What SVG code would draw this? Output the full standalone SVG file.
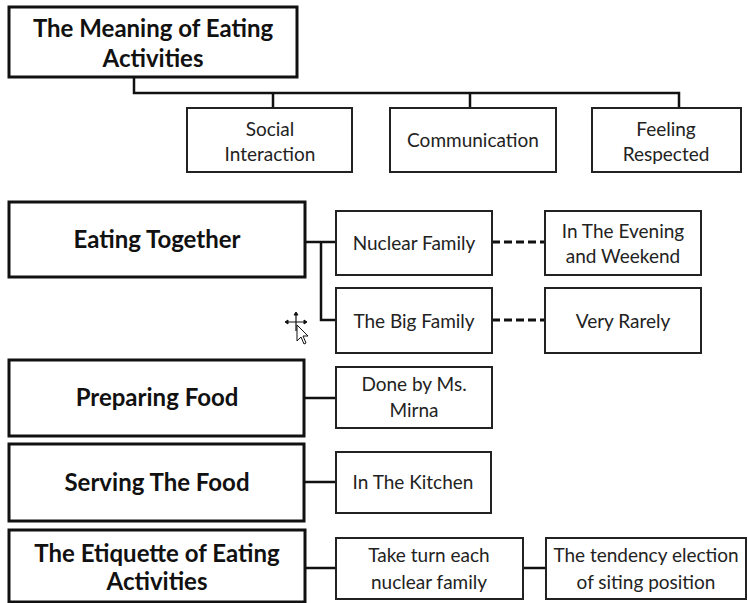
<svg xmlns="http://www.w3.org/2000/svg" width="748" height="603" viewBox="0 0 748 603">
<style>
.hb{fill:#fff;stroke:#111;stroke-width:3}
.sb{fill:#fff;stroke:#222;stroke-width:2}
.ht{font-family:Lato,"Open Sans","Liberation Sans",sans-serif;font-weight:bold;font-size:24px;fill:#111;text-anchor:middle}
.st{font-family:Lato,"Open Sans","Liberation Sans",sans-serif;font-size:19px;fill:#222;text-anchor:middle}
.c{fill:none;stroke:#111;stroke-width:2.5}
.d{fill:none;stroke:#111;stroke-width:3;stroke-dasharray:8 4}
</style>
<rect width="748" height="603" fill="#fff"/>
<g id="connectors">
<path class="c" d="M134 77V93H679V108M273 93V108M470 93V108"/>
<path class="c" d="M305 242H336M321 242V320H336"/>
<path class="d" d="M492 242H545M492 320H545"/>
<path class="c" d="M304 398H336M304 482H336M305 568H336M523 568H546"/>
</g>
<g id="meaning"><rect class="hb" x="9" y="7" width="288" height="70"/><text class="ht" x="153" y="37">The Meaning of Eating</text><text class="ht" x="153" y="67">Activities</text></g>
<g id="social"><rect class="sb" x="187" y="108" width="165" height="64"/><text class="st" x="270" y="136">Social</text><text class="st" x="270" y="161">Interaction</text></g>
<g id="communication"><rect class="sb" x="390" y="108" width="166" height="64"/><text class="st" x="473" y="147">Communication</text></g>
<g id="feeling"><rect class="sb" x="592" y="108" width="149" height="64"/><text class="st" x="666" y="136">Feeling</text><text class="st" x="666" y="161">Respected</text></g>
<g id="eating"><rect class="hb" x="9" y="202" width="296" height="75"/><text class="ht" x="157" y="248">Eating Together</text></g>
<g id="nuclear"><rect class="sb" x="336" y="211" width="156" height="64"/><text class="st" x="414" y="250">Nuclear Family</text></g>
<g id="evening"><rect class="sb" x="545" y="211" width="156" height="64"/><text class="st" x="623" y="238">In The Evening</text><text class="st" x="623" y="263">and Weekend</text></g>
<g id="big"><rect class="sb" x="336" y="288" width="156" height="65"/><text class="st" x="414" y="328">The Big Family</text></g>
<g id="rarely"><rect class="sb" x="545" y="288" width="156" height="65"/><text class="st" x="623" y="328">Very Rarely</text></g>
<g id="preparing"><rect class="hb" x="9" y="360" width="295" height="76"/><text class="ht" x="157" y="406">Preparing Food</text></g>
<g id="done"><rect class="sb" x="336" y="367" width="156" height="61"/><text class="st" x="414" y="391">Done by Ms.</text><text class="st" x="414" y="417">Mirna</text></g>
<g id="serving"><rect class="hb" x="9" y="444" width="295" height="77"/><text class="ht" x="157" y="491">Serving The Food</text></g>
<g id="kitchen"><rect class="sb" x="336" y="452" width="155" height="61"/><text class="st" x="413" y="489">In The Kitchen</text></g>
<g id="etiquette"><rect class="hb" x="9" y="530" width="296" height="72"/><text class="ht" x="157" y="562">The Etiquette of Eating</text><text class="ht" x="157" y="590">Activities</text></g>
<g id="taketurn"><rect class="sb" x="336" y="538" width="187" height="61"/><text class="st" x="429" y="562">Take turn each</text><text class="st" x="429" y="589">nuclear family</text></g>
<g id="tendency"><rect class="sb" x="546" y="538" width="200" height="61"/><text class="st" x="646" y="562">The tendency election</text><text class="st" x="646" y="589">of siting position</text></g>
<g id="cursor" fill="#fff" stroke="#111" stroke-width="1">
<path d="M296 314V331M287 322H305" stroke-width="1.2"/>
<path d="M296 312l-2 3h4zM285 322l3-2v4zM307 322l-3-2v4z" fill="#111"/>
<path d="M297 325V341l4-4 3 7 2-1-3-7h5z"/>
</g>
</svg>
